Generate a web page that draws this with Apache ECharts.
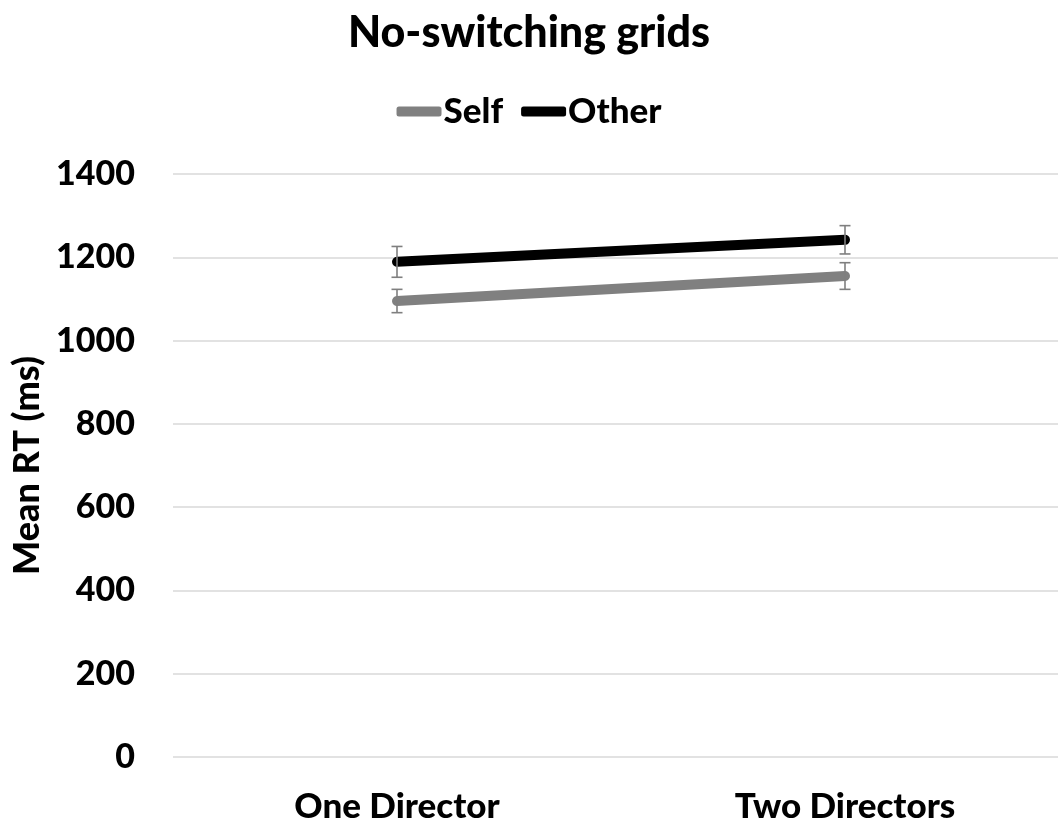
<!DOCTYPE html>
<html>
<head>
<meta charset="utf-8">
<script src="https://cdn.jsdelivr.net/npm/echarts@6/dist/echarts.min.js"></script>
<style>html,body{margin:0;padding:0;background:#fff}#c{width:1058px;height:821px}</style>
</head>
<body>
<div id="c"></div>
<script>
var categories = ['One Director', 'Two Directors'];
var selfMean = [1095, 1155];
var selfErr = [28, 32];
var otherMean = [1189, 1242];
var otherErr = [37, 34];
var yTicks = [0, 200, 400, 600, 800, 1000, 1200, 1400];

var FONT = 'Lato';
var chart = echarts.init(document.getElementById('c'));

function errData(means, errs) {
  return means.map(function (m, i) { return [i, m - errs[i], m + errs[i]]; });
}
function errRender(params, api) {
  var x = api.value(0);
  var lo = api.coord([x, api.value(1)]);
  var hi = api.coord([x, api.value(2)]);
  var hw = 5.5;
  var st = { stroke: '#7f7f7f', lineWidth: 1.6 };
  return {
    type: 'group',
    children: [
      { type: 'line', shape: { x1: lo[0], y1: lo[1], x2: hi[0], y2: hi[1] }, style: st },
      { type: 'line', shape: { x1: lo[0] - hw, y1: lo[1], x2: lo[0] + hw, y2: lo[1] }, style: st },
      { type: 'line', shape: { x1: hi[0] - hw, y1: hi[1], x2: hi[0] + hw, y2: hi[1] }, style: st }
    ]
  };
}

chart.setOption({
  animation: false,
  backgroundColor: '#fff',
  title: {
    text: 'No-switching grids',
    left: 'center',
    top: 7,
    textStyle: { fontFamily: FONT, fontWeight: 900, fontSize: 43, color: '#000' }
  },
  legend: {
    data: ['Self', 'Other'],
    top: 89,
    left: 'center',
    itemWidth: 45,
    itemHeight: 10,
    itemGap: 18,
    icon: 'roundRect',
    textStyle: { fontFamily: FONT, fontWeight: 900, fontSize: 35, color: '#000', padding: [0, 0, 0, -3] }
  },
  grid: { left: 173, right: -11, top: 174, bottom: 64, containLabel: false, outerBoundsMode: 'none' },
  xAxis: {
    type: 'category',
    data: categories,
    boundaryGap: true,
    axisLine: { show: false },
    axisTick: { show: false },
    axisLabel: { margin: 32, fontFamily: FONT, fontWeight: 900, fontSize: 35, color: '#000' }
  },
  yAxis: {
    type: 'value',
    min: yTicks[0],
    max: yTicks[yTicks.length - 1],
    interval: 200,
    name: 'Mean RT (ms)',
    nameLocation: 'middle',
    nameGap: 128,
    nameRotate: 90,
    nameTextStyle: { fontFamily: FONT, fontWeight: 900, fontSize: 36, color: '#000' },
    axisLine: { show: false },
    axisTick: { show: false },
    axisLabel: {
      margin: 38, fontFamily: FONT, fontWeight: 900, fontSize: 34, color: '#000',
      formatter: function (v) { return String(v); }
    },
    splitLine: { lineStyle: { color: '#d9d9d9', width: 1.5 } }
  },
  series: [
    {
      name: 'Self', type: 'line', data: selfMean, symbol: 'none',
      itemStyle: { color: '#808080' },
      lineStyle: { color: '#808080', width: 10, cap: 'round' }, z: 2
    },
    {
      name: 'Other', type: 'line', data: otherMean, symbol: 'none',
      itemStyle: { color: '#000' },
      lineStyle: { color: '#000', width: 10, cap: 'round' }, z: 3
    },
    { type: 'custom', renderItem: errRender, data: errData(selfMean, selfErr), z: 5, silent: true },
    { type: 'custom', renderItem: errRender, data: errData(otherMean, otherErr), z: 5, silent: true }
  ]
});
</script>
</body>
</html>
